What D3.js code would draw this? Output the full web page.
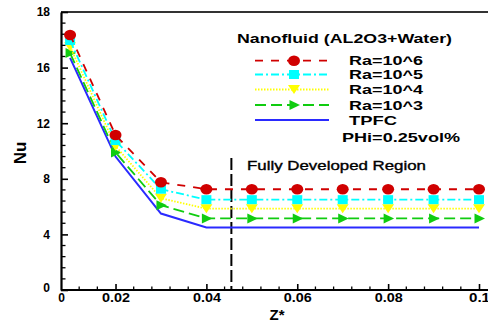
<!DOCTYPE html>
<html>
<head>
<meta charset="utf-8">
<script src="https://cdn.jsdelivr.net/npm/d3@7"></script>
<style>
  html, body { margin: 0; padding: 0; background: #fff; }
  svg { display: block; }
  text { font-family: "Liberation Sans", Arial, sans-serif; }
</style>
</head>
<body>
<svg id="chart" width="488" height="322"></svg>
<script>
// Axial position Z* and local Nusselt number for each case
const zValues = [0.01, 0.02, 0.03, 0.04, 0.05, 0.06, 0.07, 0.08, 0.09, 0.1];
const nuRa1e6 = [18.35, 11.15, 7.75, 7.25, 7.25, 7.25, 7.25, 7.25, 7.25, 7.25];
const nuRa1e5 = [17.95, 10.75, 7.25, 6.5, 6.5, 6.5, 6.5, 6.5, 6.5, 6.5];
const nuRa1e4 = [17.5, 10.35, 6.6, 5.85, 5.85, 5.85, 5.85, 5.85, 5.85, 5.85];
const nuRa1e3 = [17.05, 9.9, 6.1, 5.15, 5.15, 5.15, 5.15, 5.15, 5.15, 5.15];
const nuTPFC  = [16.7, 9.6, 5.5, 4.5, 4.5, 4.5, 4.5, 4.5, 4.5, 4.5];

const seriesNames = ["Ra=10^6", "Ra=10^5", "Ra=10^4", "Ra=10^3", "TPFC"];

// Axis ticks and their printed labels
const xTickValues = [0.008, 0.02, 0.04, 0.06, 0.08, 0.1];
const xTickLabels = ["0", "0.02", "0.04", "0.06", "0.08", "0.1"];
const yTickValues = [0, 4, 8, 12, 16, 20];
const yTickLabels = ["0", "4", "8", "12", "16", "18"];

// Start of the fully developed region
const fullyDevelopedZ = 0.0455;
const fullyDevelopedTopNu = 9.5;

const legendTitle = "Nanofluid (AL2O3+Water)";
const legendNote = "PHi=0.25vol%";
const regionLabel = "Fully Developed Region";

const styles = [
  { color: "#d00000", dash: "8,8",          width: 1.8, marker: "circle" },
  { color: "#00ffff", dash: "8,3,2,3",      width: 1.8, marker: "square" },
  { color: "#ffff00", dash: "1.5,1.5",      width: 1.8, marker: "down" },
  { color: "#10cc10", dash: "11,5",         width: 1.8, marker: "right" },
  { color: "#2a2aff", dash: null,           width: 2,   marker: null }
];
const seriesValues = [nuRa1e6, nuRa1e5, nuRa1e4, nuRa1e3, nuTPFC];

const svg = d3.select("#chart");
const x = d3.scaleLinear().domain([0.008, 0.1]).range([61, 479]);
const y = d3.scaleLinear().domain([0, 20]).range([290, 12]);
const plotRight = 488;

// Frame: top border
svg.append("line")
  .attr("x1", x(0.008)).attr("x2", plotRight)
  .attr("y1", y(20)).attr("y2", y(20))
  .attr("stroke", "#333").attr("stroke-width", 2);

// Minor ticks
const yMinor = d3.range(0, 20.01, 0.8).filter(v => !yTickValues.some(t => Math.abs(t - v) < 1e-6));
svg.append("g").selectAll("line").data(yMinor).join("line")
  .attr("x1", x(0.008)).attr("x2", x(0.008) + 4.5)
  .attr("y1", d => y(d)).attr("y2", d => y(d))
  .attr("stroke", "#000").attr("stroke-width", 1.3);
const xMinor = d3.range(0.012, 0.1031, 0.004).filter(v => !xTickValues.some(t => Math.abs(t - v) < 1e-6));
svg.append("g").selectAll("line").data(xMinor).join("line")
  .attr("x1", d => x(d)).attr("x2", d => x(d))
  .attr("y1", y(0)).attr("y2", y(0) - 3.5)
  .attr("stroke", "#000").attr("stroke-width", 1.3);

// Major ticks and labels via d3 axes
const yAxis = d3.axisLeft(y).tickValues(yTickValues)
  .tickFormat((d, i) => yTickLabels[i]).tickSizeInner(-7).tickSizeOuter(0).tickPadding(11);
const gy = svg.append("g").attr("transform", `translate(${x(0.008)},0)`).call(yAxis);
gy.select(".domain").attr("stroke-width", 2.2);
gy.selectAll(".tick line").attr("stroke-width", 1.6);
gy.selectAll(".tick text")
  .attr("font-size", 12).attr("font-weight", "bold").attr("fill", "#000")
  .attr("dy", (d) => d === 0 ? "0.1em" : "0.32em");

const xAxis = d3.axisBottom(x).tickValues(xTickValues)
  .tickFormat((d, i) => xTickLabels[i]).tickSizeInner(-6).tickSizeOuter(0).tickPadding(3);
const gx = svg.append("g").attr("transform", `translate(0,${y(0)})`).call(xAxis);
gx.select(".domain").attr("stroke-width", 2.2).attr("d", `M${x(0.008)},0H${plotRight}`);
gx.selectAll(".tick line").attr("stroke-width", 1.6);
gx.selectAll(".tick text")
  .attr("font-size", 12).attr("font-weight", "bold").attr("fill", "#000")
  .each(function(d, i) {
    const t = d3.select(this);
    if (xTickLabels[i].length === 4) t.attr("textLength", 28).attr("lengthAdjust", "spacingAndGlyphs");
    if (xTickLabels[i] === "0.1") t.attr("textLength", 21).attr("lengthAdjust", "spacingAndGlyphs");
  });
gx.selectAll(".tick").filter(d => d === 0.008).select("line").remove();

// Axis titles
svg.append("text")
  .attr("transform", `translate(26,153) rotate(-90)`)
  .attr("text-anchor", "middle")
  .attr("font-size", 17).attr("font-weight", "bold")
  .text("Nu");
svg.append("text")
  .attr("x", 277).attr("y", 320)
  .attr("text-anchor", "middle")
  .attr("font-size", 15).attr("font-weight", "bold")
  .text("Z*");

// Fully developed boundary
svg.append("line")
  .attr("x1", x(fullyDevelopedZ)).attr("x2", x(fullyDevelopedZ))
  .attr("y1", y(fullyDevelopedTopNu)).attr("y2", y(0))
  .attr("stroke", "#000").attr("stroke-width", 2)
  .attr("stroke-dasharray", "12,4");
svg.append("text")
  .attr("x", 247).attr("y", 169.5)
  .attr("font-size", 12.5).attr("fill", "#000")
  .attr("stroke", "#000").attr("stroke-width", 0.35)
  .attr("textLength", 179).attr("lengthAdjust", "spacingAndGlyphs")
  .text(regionLabel);

// Marker shapes
function markerPath(type) {
  switch (type) {
    case "circle": return null;
    case "square": return "M-5,-4.5H5V4.5H-5Z";
    case "down":   return "M-6,-4.5H6L0,4.5Z";
    case "right":  return "M-4.5,-5L6,0L-4.5,5Z";
  }
  return null;
}
function drawMarker(g, type, color, cx, cy) {
  if (type === "circle") {
    g.append("ellipse").attr("cx", cx).attr("cy", cy)
      .attr("rx", 6).attr("ry", 5.3).attr("fill", color);
  } else if (type) {
    g.append("path").attr("d", markerPath(type))
      .attr("transform", `translate(${cx},${cy})`).attr("fill", color);
  }
}

const line = d3.line().x(d => x(d[0])).y(d => y(d[1]));

// Draw series: TPFC at the back, then Ra cases
const order = [4, 3, 2, 1, 0];
order.forEach(si => {
  const st = styles[si];
  const pts = zValues.map((z, i) => [z, seriesValues[si][i]]);
  const g = svg.append("g");
  g.append("path").attr("d", line(pts))
    .attr("fill", "none").attr("stroke", st.color)
    .attr("stroke-width", st.width)
    .attr("stroke-dasharray", st.dash);
  if (st.marker) pts.forEach(p => drawMarker(g, st.marker, st.color, x(p[0]), y(p[1])));
});

// Legend
svg.append("text")
  .attr("x", 237).attr("y", 43)
  .attr("font-size", 13.5).attr("font-weight", "bold")
  .attr("textLength", 215).attr("lengthAdjust", "spacingAndGlyphs")
  .text(legendTitle);
const legendRows = [60.7, 74.5, 89.5, 105, 120];
const textWidths = [74, 74, 74, 74, 48];
seriesNames.forEach((name, i) => {
  const st = styles[i];
  const ly = legendRows[i];
  const g = svg.append("g");
  g.append("line").attr("x1", 255).attr("x2", 329).attr("y1", ly).attr("y2", ly)
    .attr("stroke", st.color).attr("stroke-width", st.width)
    .attr("stroke-dasharray", st.dash);
  drawMarker(g, st.marker, st.color, 294, ly);
  g.append("text")
    .attr("x", 349).attr("y", ly + 4.5)
    .attr("font-size", 13).attr("font-weight", "bold")
    .attr("textLength", textWidths[i]).attr("lengthAdjust", "spacingAndGlyphs")
    .text(name);
});
svg.append("text")
  .attr("x", 342).attr("y", 141.5)
  .attr("font-size", 13).attr("font-weight", "bold")
  .attr("textLength", 118).attr("lengthAdjust", "spacingAndGlyphs")
  .text(legendNote);
</script>
</body>
</html>
